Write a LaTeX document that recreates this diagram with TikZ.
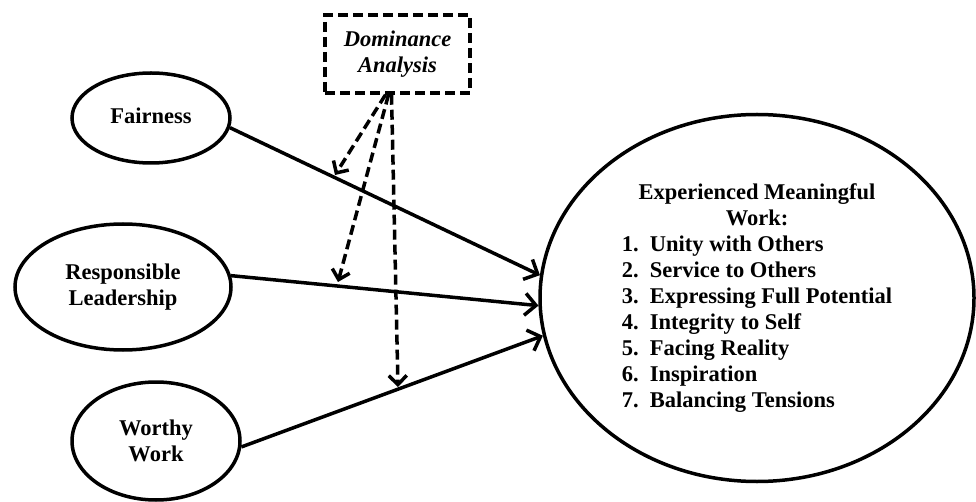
\documentclass[tikz,border=0pt]{standalone}
\usepackage{fontspec}
\setmainfont{Liberation Serif}
\usetikzlibrary{shapes,arrows.meta}

\begin{document}
\begin{tikzpicture}[x=1pt, y=-1pt, line width=3.5pt]
\tikzstyle{vertexe}=[ellipse, draw=black, line width=3.5pt, inner sep=0pt, align=center, font=\fontsize{22.5}{26}\selectfont\bfseries]
\tikzstyle{vertexd}=[rectangle, draw=black, line width=3.5pt, dash pattern=on 10pt off 5pt, inner sep=0pt, align=center, font=\fontsize{22.5}{26}\selectfont\bfseries\itshape]
\tikzstyle{drawstyle}=[line width=3.5pt, -{Straight Barb[length=11pt, width=22pt, line width=3.5pt]}]
\tikzstyle{dashstyle}=[line width=3.5pt, dash pattern=on 10pt off 5pt, -{Straight Barb[length=9pt, width=18pt, line width=3.5pt]}]

\useasboundingbox (0,0) rectangle (976,502);

\node[vertexe, minimum width=158pt, minimum height=90pt] (fair) at (151,118) {\raisebox{4pt}{Fairness}};
\node[vertexe, minimum width=216pt, minimum height=126pt] (resp) at (123,287) {Responsible\\Leadership};
\node[vertexe, minimum width=168pt, minimum height=118pt] (worthy) at (156,441) {Worthy\\Work};
\node[vertexd, minimum width=145pt, minimum height=78pt] (dom) at (397.5,54) {Dominance\\Analysis};
\node[vertexe, minimum width=434pt, minimum height=367pt] (emw) at (757,298) {%
\begin{tabular}{@{}p{28pt}@{}l@{}}
\multicolumn{2}{c}{Experienced Meaningful}\\
\multicolumn{2}{c}{Work:}\\
1. & Unity with Others\\
2. & Service to Others\\
3. & Expressing Full Potential\\
4. & Integrity to Self\\
5. & Facing Reality\\
6. & Inspiration\\
7. & Balancing Tensions
\end{tabular}};

\draw[drawstyle] (fair.-7) -- (emw.174);
\draw[drawstyle] (resp.6) -- (emw.182);
\draw[drawstyle] (worthy.-4) -- (emw.190);

\coordinate (d1) at (335,175);
\coordinate (d2) at (338,282);
\coordinate (d3) at (398,387);
\draw[dashstyle] ([xshift=-12pt]dom.south) -- (d1);
\draw[dashstyle] ([xshift=-9pt]dom.south) -- (d2);
\draw[dashstyle] ([xshift=-6pt]dom.south) -- (d3);
\end{tikzpicture}
\end{document}
